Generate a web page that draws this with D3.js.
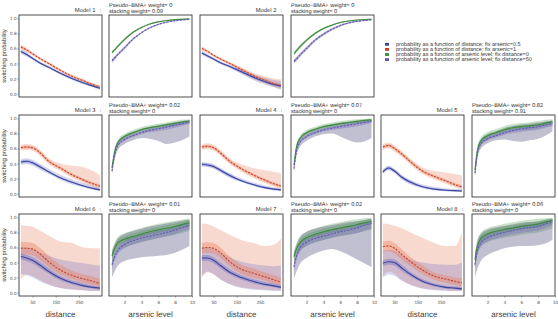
<!DOCTYPE html>
<html lang="en">
<head>
<meta charset="UTF-8">
<title>Switching probability by model</title>
<script src="https://d3js.org/d3.v7.min.js"></script>
<style>
  body { margin: 0; background: #fff; }
  svg text { font-family: 'Liberation Sans', Arial, sans-serif; text-rendering: geometricPrecision; }
</style>
</head>
<body>
<div id="chart"></div>
<script>
// x grids the curves were read at
const distGrid = [0, 25, 50, 80, 120, 170, 220, 270, 310, 340];
const arsGrid = [0.5, 0.8, 1.2, 2, 3, 4, 5, 6, 7, 8, 9, 9.7];

const modelNames = ["Model 1", "Model 2", "Model 3", "Model 4", "Model 5", "Model 6", "Model 7", "Model 8"];
const pseudoBma = [0, 0, 0.02, 0.07, 0.82, 0.01, 0.02, 0.06];
const stackingW = [0.09, 0, 0, 0, 0.91, 0, 0, 0];

const probTicks = [0, 0.2, 0.4, 0.6, 0.8, 1.0];
const distTicks = [50, 150, 250];
const arsTicks = [2, 4, 6, 8, 10];

const legendLabels = [
  "probability as a function of distance; fix arsenic=0.5",
  "probability as a function of distance; fix arsenic=1",
  "probability as a function of arsenic level; fix distance=0",
  "probability as a function of arsenic level; fix distance=50"
];

// distance panels, blue = arsenic 0.5 (one row per model)
const distBlueMean = [
  [0.56,0.52,0.47,0.41,0.35,0.27,0.20,0.14,0.10,0.07],
  [0.54,0.50,0.46,0.41,0.36,0.29,0.22,0.16,0.12,0.10],
  [0.42,0.43,0.41,0.36,0.29,0.21,0.15,0.10,0.07,0.05],
  [0.39,0.38,0.36,0.31,0.24,0.17,0.12,0.08,0.06,0.05],
  [0.29,0.34,0.30,0.22,0.15,0.09,0.06,0.045,0.04,0.035],
  [0.48,0.46,0.43,0.37,0.28,0.19,0.13,0.09,0.07,0.06],
  [0.46,0.46,0.43,0.36,0.27,0.20,0.15,0.11,0.09,0.07],
  [0.39,0.41,0.40,0.33,0.24,0.15,0.10,0.07,0.06,0.05]
];
const distBlueLo50 = [
  [0.545,0.505,0.46,0.40,0.34,0.26,0.19,0.13,0.09,0.06],
  [0.525,0.49,0.45,0.40,0.35,0.27,0.20,0.14,0.10,0.08],
  [0.40,0.41,0.39,0.34,0.28,0.20,0.14,0.09,0.06,0.04],
  [0.37,0.36,0.34,0.29,0.22,0.16,0.11,0.07,0.05,0.04],
  [0.27,0.32,0.28,0.20,0.13,0.08,0.05,0.035,0.03,0.025],
  [0.44,0.42,0.39,0.33,0.25,0.16,0.11,0.07,0.05,0.04],
  [0.42,0.42,0.39,0.32,0.24,0.17,0.12,0.09,0.07,0.05],
  [0.35,0.37,0.36,0.29,0.21,0.13,0.08,0.05,0.04,0.03]
];
const distBlueHi50 = [
  [0.575,0.535,0.48,0.42,0.36,0.28,0.21,0.15,0.11,0.08],
  [0.555,0.51,0.47,0.42,0.37,0.31,0.24,0.18,0.14,0.12],
  [0.44,0.45,0.43,0.38,0.30,0.22,0.16,0.11,0.08,0.06],
  [0.41,0.40,0.38,0.33,0.26,0.18,0.13,0.09,0.07,0.06],
  [0.31,0.36,0.32,0.24,0.17,0.10,0.07,0.055,0.05,0.045],
  [0.52,0.50,0.47,0.41,0.32,0.22,0.16,0.12,0.09,0.08],
  [0.50,0.50,0.47,0.40,0.31,0.23,0.18,0.14,0.12,0.10],
  [0.43,0.45,0.44,0.37,0.27,0.18,0.12,0.09,0.08,0.07]
];
const distBlueLo95 = [
  [0.53,0.49,0.45,0.39,0.33,0.25,0.18,0.12,0.08,0.05],
  [0.51,0.475,0.44,0.39,0.34,0.26,0.18,0.12,0.08,0.05],
  [0.38,0.39,0.37,0.32,0.26,0.18,0.12,0.08,0.05,0.03],
  [0.36,0.35,0.33,0.28,0.21,0.15,0.10,0.06,0.04,0.03],
  [0.26,0.31,0.27,0.19,0.12,0.07,0.04,0.03,0.02,0.02],
  [0.25,0.23,0.20,0.15,0.10,0.06,0.04,0.03,0.02,0.02],
  [0.22,0.28,0.24,0.17,0.11,0.06,0.04,0.03,0.02,0.02],
  [0.20,0.24,0.22,0.16,0.10,0.05,0.03,0.02,0.02,0.02]
];
const distBlueHi95 = [
  [0.59,0.55,0.49,0.43,0.37,0.29,0.22,0.16,0.12,0.09],
  [0.57,0.525,0.48,0.43,0.38,0.32,0.26,0.21,0.18,0.17],
  [0.46,0.47,0.45,0.40,0.33,0.25,0.19,0.14,0.10,0.08],
  [0.42,0.41,0.39,0.34,0.27,0.20,0.15,0.11,0.08,0.07],
  [0.32,0.37,0.33,0.25,0.18,0.12,0.09,0.07,0.06,0.06],
  [0.61,0.60,0.58,0.54,0.49,0.44,0.41,0.39,0.37,0.36],
  [0.60,0.60,0.58,0.53,0.47,0.41,0.38,0.36,0.35,0.36],
  [0.55,0.57,0.56,0.50,0.44,0.40,0.38,0.37,0.37,0.40]
];

// distance panels, red = arsenic 1
const distRedMean = [
  [0.62,0.58,0.53,0.47,0.40,0.31,0.23,0.17,0.12,0.09],
  [0.60,0.56,0.51,0.46,0.40,0.32,0.24,0.18,0.13,0.11],
  [0.61,0.62,0.61,0.55,0.43,0.34,0.25,0.18,0.13,0.10],
  [0.62,0.63,0.61,0.54,0.43,0.33,0.25,0.18,0.13,0.10],
  [0.62,0.64,0.60,0.53,0.42,0.30,0.23,0.17,0.12,0.09],
  [0.59,0.59,0.58,0.52,0.41,0.30,0.23,0.18,0.15,0.12],
  [0.59,0.60,0.59,0.53,0.41,0.31,0.26,0.21,0.17,0.14],
  [0.61,0.62,0.59,0.51,0.41,0.30,0.22,0.18,0.15,0.13]
];
const distRedLo50 = [
  [0.605,0.565,0.52,0.46,0.39,0.30,0.22,0.16,0.11,0.08],
  [0.585,0.55,0.50,0.45,0.39,0.30,0.22,0.16,0.11,0.09],
  [0.59,0.60,0.59,0.53,0.41,0.32,0.23,0.16,0.11,0.08],
  [0.60,0.61,0.59,0.52,0.41,0.31,0.23,0.16,0.11,0.08],
  [0.60,0.62,0.58,0.51,0.40,0.28,0.21,0.15,0.10,0.07],
  [0.50,0.51,0.50,0.44,0.34,0.24,0.18,0.13,0.10,0.08],
  [0.52,0.53,0.52,0.46,0.35,0.25,0.20,0.16,0.12,0.10],
  [0.54,0.55,0.52,0.44,0.35,0.25,0.17,0.13,0.10,0.08]
];
const distRedHi50 = [
  [0.635,0.595,0.54,0.48,0.41,0.32,0.24,0.18,0.13,0.10],
  [0.615,0.57,0.52,0.47,0.41,0.34,0.26,0.20,0.15,0.13],
  [0.63,0.64,0.63,0.57,0.45,0.36,0.27,0.20,0.15,0.12],
  [0.64,0.65,0.63,0.56,0.45,0.35,0.27,0.20,0.15,0.12],
  [0.64,0.66,0.62,0.55,0.44,0.32,0.25,0.19,0.14,0.11],
  [0.68,0.67,0.66,0.60,0.49,0.37,0.29,0.24,0.21,0.18],
  [0.66,0.67,0.66,0.60,0.48,0.37,0.32,0.27,0.23,0.20],
  [0.68,0.69,0.66,0.58,0.47,0.36,0.27,0.23,0.20,0.19]
];
const distRedLo95 = [
  [0.59,0.55,0.51,0.45,0.38,0.29,0.21,0.15,0.10,0.07],
  [0.57,0.535,0.49,0.44,0.38,0.29,0.20,0.14,0.09,0.06],
  [0.57,0.58,0.57,0.51,0.39,0.30,0.21,0.14,0.09,0.06],
  [0.58,0.59,0.57,0.50,0.39,0.29,0.21,0.14,0.09,0.06],
  [0.58,0.60,0.56,0.49,0.38,0.26,0.19,0.13,0.08,0.05],
  [0.17,0.24,0.22,0.17,0.11,0.06,0.04,0.03,0.02,0.02],
  [0.20,0.27,0.25,0.18,0.11,0.07,0.05,0.04,0.03,0.03],
  [0.22,0.28,0.25,0.17,0.10,0.06,0.04,0.03,0.02,0.02]
];
const distRedHi95 = [
  [0.65,0.61,0.55,0.49,0.42,0.33,0.25,0.19,0.14,0.11],
  [0.63,0.585,0.53,0.48,0.42,0.35,0.28,0.23,0.20,0.19],
  [0.65,0.66,0.65,0.59,0.47,0.40,0.37,0.35,0.30,0.24],
  [0.66,0.67,0.65,0.58,0.47,0.39,0.34,0.31,0.29,0.27],
  [0.66,0.68,0.64,0.57,0.46,0.35,0.30,0.28,0.26,0.24],
  [0.90,0.89,0.88,0.83,0.76,0.68,0.66,0.60,0.59,0.59],
  [0.92,0.91,0.88,0.83,0.77,0.70,0.66,0.62,0.64,0.72],
  [0.92,0.91,0.89,0.86,0.80,0.73,0.66,0.62,0.62,0.80]
];

// arsenic panels, green = distance 0
const arsGreenMean = [
  [0.545,0.58,0.63,0.72,0.815,0.88,0.925,0.954,0.972,0.983,0.99,0.993],
  [0.53,0.57,0.62,0.71,0.80,0.865,0.91,0.945,0.965,0.978,0.986,0.99],
  [0.34,0.55,0.68,0.76,0.81,0.85,0.875,0.895,0.915,0.935,0.955,0.965],
  [0.38,0.62,0.73,0.81,0.855,0.89,0.91,0.93,0.945,0.96,0.975,0.98],
  [0.31,0.58,0.70,0.77,0.81,0.85,0.875,0.89,0.90,0.915,0.94,0.955],
  [0.49,0.58,0.66,0.71,0.745,0.78,0.81,0.835,0.855,0.88,0.91,0.93],
  [0.48,0.58,0.66,0.73,0.775,0.81,0.835,0.86,0.88,0.905,0.93,0.945],
  [0.44,0.62,0.72,0.78,0.815,0.84,0.86,0.88,0.895,0.91,0.94,0.96]
];
const arsGreenLo50 = [
  [0.535,0.57,0.62,0.71,0.808,0.874,0.92,0.95,0.969,0.981,0.988,0.991],
  [0.52,0.56,0.61,0.70,0.79,0.857,0.904,0.94,0.961,0.975,0.984,0.988],
  [0.32,0.53,0.665,0.745,0.795,0.835,0.86,0.88,0.90,0.92,0.94,0.95],
  [0.36,0.60,0.715,0.795,0.84,0.875,0.895,0.915,0.93,0.945,0.96,0.97],
  [0.28,0.555,0.68,0.75,0.79,0.83,0.855,0.87,0.88,0.895,0.92,0.935],
  [0.45,0.54,0.62,0.67,0.705,0.74,0.77,0.795,0.815,0.84,0.87,0.89],
  [0.44,0.54,0.62,0.69,0.735,0.77,0.795,0.82,0.84,0.865,0.89,0.905],
  [0.40,0.58,0.68,0.74,0.775,0.80,0.82,0.84,0.855,0.87,0.90,0.92]
];
const arsGreenHi50 = [
  [0.555,0.59,0.64,0.73,0.822,0.886,0.93,0.958,0.975,0.985,0.992,0.995],
  [0.54,0.58,0.63,0.72,0.81,0.873,0.916,0.95,0.969,0.981,0.988,0.992],
  [0.36,0.57,0.695,0.775,0.825,0.865,0.89,0.91,0.93,0.95,0.97,0.98],
  [0.40,0.64,0.745,0.825,0.87,0.905,0.925,0.945,0.96,0.975,0.99,0.99],
  [0.34,0.605,0.72,0.79,0.83,0.87,0.895,0.91,0.92,0.935,0.96,0.975],
  [0.53,0.62,0.70,0.75,0.785,0.82,0.85,0.875,0.895,0.92,0.95,0.97],
  [0.52,0.62,0.70,0.77,0.815,0.85,0.875,0.90,0.92,0.945,0.97,0.985],
  [0.48,0.66,0.76,0.82,0.855,0.88,0.90,0.92,0.935,0.95,0.98,0.99]
];
const arsGreenLo95 = [
  [0.52,0.56,0.61,0.70,0.80,0.87,0.915,0.948,0.967,0.979,0.987,0.99],
  [0.505,0.545,0.595,0.69,0.785,0.85,0.898,0.935,0.957,0.972,0.982,0.986],
  [0.30,0.51,0.645,0.725,0.775,0.815,0.84,0.86,0.88,0.90,0.92,0.93],
  [0.34,0.58,0.695,0.775,0.82,0.855,0.875,0.895,0.91,0.925,0.94,0.95],
  [0.25,0.52,0.65,0.72,0.76,0.80,0.825,0.84,0.85,0.865,0.89,0.905],
  [0.38,0.47,0.55,0.60,0.635,0.67,0.70,0.725,0.745,0.77,0.80,0.82],
  [0.37,0.47,0.55,0.62,0.665,0.70,0.725,0.75,0.77,0.795,0.82,0.835],
  [0.33,0.51,0.61,0.67,0.705,0.73,0.75,0.77,0.785,0.80,0.83,0.85]
];
const arsGreenHi95 = [
  [0.57,0.60,0.65,0.74,0.83,0.89,0.935,0.96,0.977,0.987,0.993,0.996],
  [0.555,0.595,0.645,0.73,0.815,0.88,0.922,0.955,0.973,0.984,0.99,0.994],
  [0.38,0.59,0.715,0.795,0.845,0.885,0.91,0.93,0.95,0.97,0.985,0.99],
  [0.42,0.66,0.765,0.845,0.89,0.925,0.945,0.965,0.98,0.99,0.995,0.997],
  [0.37,0.64,0.75,0.82,0.86,0.90,0.925,0.94,0.95,0.965,0.985,0.99],
  [0.57,0.66,0.74,0.79,0.825,0.86,0.89,0.915,0.935,0.955,0.975,0.985],
  [0.56,0.66,0.74,0.81,0.855,0.89,0.915,0.94,0.96,0.975,0.99,0.995],
  [0.52,0.70,0.80,0.86,0.89,0.915,0.935,0.955,0.97,0.98,0.99,0.995]
];

// arsenic panels, purple = distance 50
const arsPurpleMean = [
  [0.438,0.47,0.52,0.61,0.725,0.81,0.875,0.92,0.95,0.968,0.98,0.986],
  [0.43,0.46,0.51,0.60,0.71,0.79,0.855,0.905,0.94,0.96,0.974,0.98],
  [0.30,0.50,0.64,0.72,0.77,0.81,0.84,0.86,0.885,0.91,0.935,0.95],
  [0.33,0.56,0.68,0.76,0.81,0.845,0.87,0.89,0.91,0.93,0.95,0.96],
  [0.27,0.53,0.66,0.73,0.77,0.81,0.84,0.86,0.875,0.89,0.915,0.935],
  [0.37,0.47,0.56,0.64,0.69,0.725,0.75,0.775,0.80,0.83,0.87,0.89],
  [0.34,0.48,0.59,0.67,0.72,0.75,0.78,0.81,0.83,0.86,0.90,0.92],
  [0.37,0.56,0.66,0.73,0.77,0.80,0.825,0.85,0.865,0.88,0.92,0.945]
];
const arsPurpleLo50 = [
  [0.425,0.458,0.51,0.60,0.717,0.803,0.869,0.915,0.946,0.965,0.977,0.984],
  [0.415,0.445,0.50,0.59,0.70,0.78,0.847,0.898,0.935,0.956,0.97,0.977],
  [0.28,0.48,0.62,0.70,0.75,0.79,0.815,0.83,0.85,0.875,0.905,0.925],
  [0.31,0.54,0.66,0.74,0.79,0.825,0.845,0.86,0.875,0.895,0.92,0.935],
  [0.24,0.505,0.635,0.705,0.745,0.78,0.805,0.82,0.835,0.85,0.88,0.90],
  [0.32,0.42,0.51,0.59,0.64,0.675,0.70,0.725,0.75,0.78,0.82,0.845],
  [0.29,0.43,0.54,0.62,0.67,0.70,0.73,0.755,0.77,0.79,0.83,0.855],
  [0.32,0.51,0.61,0.68,0.72,0.75,0.775,0.795,0.81,0.825,0.865,0.895]
];
const arsPurpleHi50 = [
  [0.451,0.482,0.53,0.62,0.733,0.817,0.881,0.925,0.954,0.971,0.983,0.988],
  [0.445,0.475,0.52,0.61,0.72,0.80,0.863,0.912,0.945,0.964,0.978,0.983],
  [0.32,0.52,0.66,0.74,0.79,0.83,0.86,0.88,0.905,0.93,0.955,0.965],
  [0.35,0.58,0.70,0.78,0.83,0.865,0.89,0.91,0.93,0.95,0.97,0.975],
  [0.30,0.555,0.685,0.755,0.795,0.835,0.865,0.885,0.90,0.915,0.94,0.955],
  [0.42,0.52,0.61,0.69,0.74,0.775,0.80,0.825,0.85,0.88,0.915,0.93],
  [0.39,0.53,0.64,0.72,0.77,0.80,0.83,0.86,0.88,0.91,0.94,0.955],
  [0.42,0.61,0.71,0.78,0.82,0.85,0.87,0.895,0.91,0.925,0.955,0.97]
];
const arsPurpleLo95 = [
  [0.41,0.445,0.50,0.59,0.71,0.80,0.865,0.91,0.943,0.962,0.975,0.982],
  [0.40,0.43,0.485,0.575,0.69,0.77,0.84,0.89,0.93,0.952,0.967,0.974],
  [0.25,0.44,0.58,0.66,0.71,0.74,0.73,0.70,0.66,0.68,0.72,0.76],
  [0.28,0.50,0.62,0.70,0.76,0.79,0.80,0.76,0.71,0.68,0.70,0.74],
  [0.22,0.47,0.60,0.67,0.71,0.72,0.70,0.69,0.71,0.73,0.78,0.83],
  [0.20,0.28,0.36,0.42,0.45,0.47,0.48,0.49,0.50,0.53,0.58,0.62],
  [0.18,0.28,0.38,0.46,0.52,0.56,0.58,0.55,0.50,0.44,0.38,0.34],
  [0.20,0.32,0.42,0.50,0.55,0.59,0.61,0.62,0.62,0.63,0.66,0.70]
];
const arsPurpleHi95 = [
  [0.465,0.495,0.54,0.63,0.74,0.82,0.885,0.93,0.957,0.974,0.985,0.99],
  [0.46,0.49,0.535,0.625,0.73,0.81,0.87,0.92,0.95,0.968,0.981,0.986],
  [0.34,0.55,0.69,0.77,0.82,0.86,0.89,0.91,0.93,0.95,0.97,0.975],
  [0.38,0.62,0.74,0.81,0.86,0.89,0.92,0.94,0.955,0.97,0.98,0.985],
  [0.32,0.59,0.72,0.79,0.83,0.87,0.90,0.92,0.93,0.945,0.96,0.97],
  [0.55,0.64,0.72,0.78,0.82,0.85,0.88,0.90,0.92,0.94,0.96,0.97],
  [0.52,0.64,0.74,0.81,0.85,0.88,0.90,0.92,0.94,0.95,0.97,0.98],
  [0.52,0.70,0.78,0.84,0.87,0.89,0.91,0.93,0.94,0.95,0.97,0.98]
];

// ---- layout ----
const W = 558, H = 319;
const colX = [19, 109, 200, 291, 381, 472];
const rowY = [15, 115, 214];
const pw = 83, ph = 82;
// [row, pair] for each model
const panelSlot = [[0,0],[0,1],[1,0],[1,1],[1,2],[2,0],[2,1],[2,2]];

const col = {
  blue: "#3a45a0", blueFill: "#5a60c4",
  red: "#c8472e", redFill: "#e8805f",
  green: "#3b8a3e", greenFill: "#4f9e50",
  purple: "#6558b8", purpleFill: "#6c6a90"
};

const svg = d3.select("#chart").append("svg")
  .attr("width", W).attr("height", H);

const y = d3.scaleLinear().domain([-0.045, 1.045]).range([ph, 0]);
const xDist = d3.scaleLinear().domain([-8, 349]).range([0, pw]);
const xArs = d3.scaleLinear().domain([0.15, 10]).range([0, pw]);

function band(g, x, grid, lo, hi, fill, op) {
  const area = d3.area()
    .x((d, i) => x(grid[i]))
    .y0((d, i) => y(lo[i]))
    .y1((d, i) => y(hi[i]))
    .curve(d3.curveMonotoneX);
  g.append("path").datum(lo).attr("d", area)
    .attr("fill", fill).attr("fill-opacity", op).attr("stroke", "none");
}

function curve(g, x, grid, vals, stroke, dash) {
  const line = d3.line()
    .x((d, i) => x(grid[i]))
    .y(d => y(d))
    .curve(d3.curveMonotoneX);
  g.append("path").datum(vals).attr("d", line)
    .attr("fill", "none").attr("stroke", stroke)
    .attr("stroke-width", 1.1)
    .attr("stroke-dasharray", dash || null);
}

function frame(g) {
  g.append("rect").attr("width", pw).attr("height", ph)
    .attr("fill", "none").attr("stroke", "#3a3a3a").attr("stroke-width", 0.9);
}

function styleAxis(g) {
  g.select(".domain").remove();
  g.selectAll("line").attr("stroke", "#555").attr("stroke-width", 0.6);
  g.selectAll("text").attr("fill", "#555").style("font-size", "4.6px")
    .style("font-family", "'Liberation Sans', Arial, sans-serif");
}

modelNames.forEach((name, m) => {
  const [r, p] = panelSlot[m];
  const top = rowY[r];

  // distance panel
  const gd = svg.append("g").attr("transform", `translate(${colX[2 * p]},${top})`);
  band(gd, xDist, distGrid, distRedLo95[m], distRedHi95[m], col.redFill, 0.3);
  band(gd, xDist, distGrid, distBlueLo95[m], distBlueHi95[m], col.blueFill, 0.25);
  band(gd, xDist, distGrid, distRedLo50[m], distRedHi50[m], col.redFill, 0.4);
  band(gd, xDist, distGrid, distBlueLo50[m], distBlueHi50[m], col.blueFill, 0.35);
  curve(gd, xDist, distGrid, distBlueMean[m], col.blue);
  curve(gd, xDist, distGrid, distRedMean[m], col.red, "2.2,1.2");
  frame(gd);

  // arsenic panel
  const ga = svg.append("g").attr("transform", `translate(${colX[2 * p + 1]},${top})`);
  band(ga, xArs, arsGrid, arsGreenLo95[m], arsGreenHi95[m], col.greenFill, 0.3);
  band(ga, xArs, arsGrid, arsPurpleLo95[m], arsPurpleHi95[m], col.purpleFill, 0.42);
  band(ga, xArs, arsGrid, arsGreenLo50[m], arsGreenHi50[m], col.greenFill, 0.35);
  band(ga, xArs, arsGrid, arsPurpleLo50[m], arsPurpleHi50[m], col.purple, 0.3);
  curve(ga, xArs, arsGrid, arsGreenMean[m], col.green);
  curve(ga, xArs, arsGrid, arsPurpleMean[m], col.purple, "2.2,1.2");
  frame(ga);

  // titles
  const mt = svg.append("text")
    .attr("x", colX[2 * p] + pw - 1).attr("y", top - 3.3)
    .attr("text-anchor", "end").style("font-size", "5.8px");
  mt.append("tspan").attr("fill", "#333").text(name);
  mt.append("tspan").attr("dx", 4).attr("fill", "#333").text(":");
  svg.append("text")
    .attr("x", colX[2 * p + 1]).attr("y", top - 8)
    .attr("fill", "#333").style("font-size", "5.6px")
    .text("Pseudo\u2212BMA+ weight= " + pseudoBma[m]);
  svg.append("text")
    .attr("x", colX[2 * p + 1]).attr("y", top - 2)
    .attr("fill", "#333").style("font-size", "5.6px")
    .text("stacking weight= " + stackingW[m]);

  // y axis on first column
  if (p === 0) {
    gd.append("g")
      .call(d3.axisLeft(y).tickValues(probTicks).tickFormat(d3.format(".1f")).tickSize(1.5).tickPadding(1))
      .call(styleAxis);
    svg.append("text")
      .attr("transform", `translate(6,${top + ph / 2}) rotate(-90)`)
      .attr("text-anchor", "middle").attr("fill", "#333")
      .style("font-size", "6px").text("switching probability");
  }

  // x axes on bottom row
  if (r === 2) {
    gd.append("g").attr("transform", `translate(0,${ph})`)
      .call(d3.axisBottom(xDist).tickValues(distTicks).tickSize(1.5).tickPadding(3))
      .call(styleAxis);
    ga.append("g").attr("transform", `translate(0,${ph})`)
      .call(d3.axisBottom(xArs).tickValues(arsTicks).tickSize(1.5).tickPadding(3))
      .call(styleAxis);
    svg.append("text")
      .attr("x", colX[2 * p] + pw / 2).attr("y", 317)
      .attr("text-anchor", "middle").style("fill", "#3c3c3c")
      .style("font-size", "8px").text("distance");
    svg.append("text")
      .attr("x", colX[2 * p + 1] + pw / 2).attr("y", 317)
      .attr("text-anchor", "middle").style("fill", "#3c3c3c")
      .style("font-size", "8px").text("arsenic level");
  }
});

// legend
const legendColors = [col.blue, "#d23a2c", col.green, col.purple];
const lg = svg.append("g").attr("transform", "translate(385,44.3)");
legendLabels.forEach((t, i) => {
  lg.append("rect").attr("x", 0).attr("y", i * 5.1 - 1.4)
    .attr("width", 4).attr("height", 2.8).attr("fill", legendColors[i]);
  lg.append("text").attr("x", 11).attr("y", i * 5.1 + 1.9)
    .attr("fill", "#333").style("font-size", "5.5px").text(t);
});
</script>
</body>
</html>
